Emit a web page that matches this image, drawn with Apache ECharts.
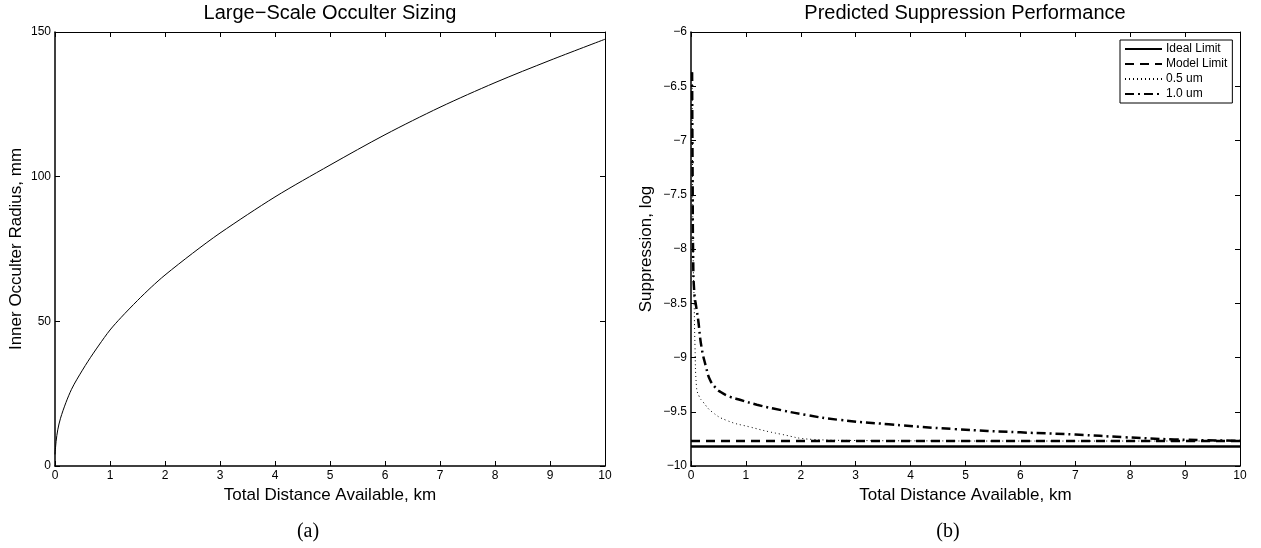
<!DOCTYPE html>
<html>
<head>
<meta charset="utf-8">
<script src="https://cdn.jsdelivr.net/npm/echarts@6/dist/echarts.min.js"></script>
<style>
  html, body { margin: 0; padding: 0; background: #fff; }
  #main { width: 1261px; height: 548px; }
</style>
</head>
<body>
<div id="main"></div>
<script>
// (a) occulter sizing curve
const sizeX = [0, 0.02, 0.05, 0.1, 0.2, 0.3, 0.4, 0.6, 0.8, 1, 1.2, 1.5, 1.75, 2, 2.5, 3, 4, 5, 6, 7, 8, 9, 10];
const sizeY = [4, 8.5, 12.5, 16.5, 22, 26.5, 30, 36.2, 41.8, 47, 51.3, 57.2, 61.8, 66, 73.5, 80.5, 93, 104, 114.5, 124, 132.5, 140.2, 147.5];

// (b) suppression curves
const limitX = [0, 10];
const idealY = [-9.82, -9.82];
const modelY = [-9.77, -9.77];
const halfX = [0.02, 0.03, 0.04, 0.055, 0.073, 0.1, 0.15, 0.22, 0.38, 0.65, 1.07, 1.62, 2.22, 3, 4, 6, 8, 10];
const halfY = [-6.37, -7.5, -8.1, -8.44, -8.9, -9.27, -9.36, -9.41, -9.5, -9.58, -9.64, -9.705, -9.755, -9.765, -9.768, -9.77, -9.77, -9.77];
const oneX = [0.02, 0.03, 0.04, 0.06, 0.1, 0.13, 0.19, 0.27, 0.35, 0.45, 0.53, 0.7, 0.89, 1.2, 1.5, 2.1, 2.7, 3.6, 4.8, 6, 7, 7.9, 8.8, 9.9, 10];
const oneY = [-6.37, -7.4, -8.1, -8.4, -8.55, -8.65, -8.9, -9.08, -9.21, -9.28, -9.315, -9.36, -9.39, -9.435, -9.47, -9.53, -9.575, -9.615, -9.66, -9.69, -9.71, -9.735, -9.755, -9.767, -9.768];

const xTicks = { min: 0, max: 10, interval: 1 };
const sizeTicks = { min: 0, max: 150, interval: 50 };
const suppTicks = { min: -10, max: -6, interval: 0.5 };

function pairs(xs, ys) {
  return xs.map((x, i) => [x, ys[i]]);
}
const minus = v => String(v).replace('-', '\u2212');

const font = 'Liberation Sans, Arial, Helvetica, sans-serif';
const lineBlack = { color: '#000', width: 1 };

function mainX(grid) {
  return {
    type: 'value', gridIndex: grid, min: xTicks.min, max: xTicks.max, interval: xTicks.interval,
    name: 'Total Distance Available, km', nameLocation: 'middle', nameGap: 20,
    nameTextStyle: { fontFamily: font, fontSize: 17, color: '#000' },
    axisLine: { show: true, onZero: false, lineStyle: { color: '#000', width: 1.5 } },
    axisTick: { show: true, inside: true, length: 5, lineStyle: lineBlack },
    axisLabel: { fontFamily: font, fontSize: 12, color: '#000', margin: 4 },
    splitLine: { show: false }
  };
}
function topX(grid) {
  return {
    type: 'value', gridIndex: grid, position: 'top', min: xTicks.min, max: xTicks.max, interval: xTicks.interval,
    axisLine: { show: true, onZero: false, lineStyle: lineBlack },
    axisTick: { show: true, inside: true, length: 5, lineStyle: lineBlack },
    axisLabel: { show: false }, splitLine: { show: false }
  };
}
function mainY(grid, t, name, gap) {
  return {
    type: 'value', gridIndex: grid, min: t.min, max: t.max, interval: t.interval,
    name: name, nameLocation: 'middle', nameGap: gap,
    nameTextStyle: { fontFamily: font, fontSize: 17, color: '#000' },
    axisLine: { show: true, onZero: false, lineStyle: { color: '#000', width: 1.5 } },
    axisTick: { show: true, inside: true, length: 5, lineStyle: lineBlack },
    axisLabel: { fontFamily: font, fontSize: 12, color: '#000', margin: 4, formatter: minus },
    splitLine: { show: false }
  };
}
function rightY(grid, t) {
  return {
    type: 'value', gridIndex: grid, position: 'right', min: t.min, max: t.max, interval: t.interval,
    axisLine: { show: true, onZero: false, lineStyle: lineBlack },
    axisTick: { show: true, inside: true, length: 5, lineStyle: lineBlack },
    axisLabel: { show: false }, splitLine: { show: false }
  };
}

const chart = echarts.init(document.getElementById('main'), null, { renderer: 'canvas' });

chart.setOption({
  animation: false,
  backgroundColor: '#fff',
  grid: [
    { left: 55, right: 656, top: 32, bottom: 82 },
    { left: 691, right: 21, top: 32, bottom: 82 }
  ],
  xAxis: [mainX(0), topX(0), mainX(1), topX(1)],
  yAxis: [
    mainY(0, sizeTicks, 'Inner Occulter Radius, mm', 30),
    rightY(0, sizeTicks),
    mainY(1, suppTicks, 'Suppression, log', 36),
    rightY(1, suppTicks)
  ],
  legend: {
    orient: 'vertical', left: 1120, top: 40,
    data: ['Ideal Limit', 'Model Limit', '0.5 um', '1.0 um'],
    itemWidth: 37, itemHeight: 12, itemGap: 3,
    padding: [3, 5, 3, 4],
    borderColor: '#000', borderWidth: 1, backgroundColor: '#fff',
    itemStyle: { color: 'rgba(0,0,0,0)', borderColor: 'rgba(0,0,0,0)', borderWidth: 0 },
    textStyle: { fontFamily: font, fontSize: 12, color: '#000', padding: [0, 0, 0, -1] }
  },
  series: [
    {
      type: 'line', name: 'sizing', xAxisIndex: 0, yAxisIndex: 0,
      data: pairs(sizeX, sizeY), smooth: 0.3, symbol: 'none',
      lineStyle: { color: '#000', width: 1 }
    },
    {
      type: 'line', name: 'Ideal Limit', xAxisIndex: 2, yAxisIndex: 2,
      data: pairs(limitX, idealY), symbol: 'none',
      lineStyle: { color: '#000', width: 2.5 }, itemStyle: { color: '#000' }
    },
    {
      type: 'line', name: 'Model Limit', xAxisIndex: 2, yAxisIndex: 2,
      data: pairs(limitX, modelY), symbol: 'none',
      lineStyle: { color: '#000', width: 2.5, type: [9, 6] }, itemStyle: { color: '#000' }
    },
    {
      type: 'line', name: '0.5 um', xAxisIndex: 2, yAxisIndex: 2,
      data: pairs(halfX, halfY), smooth: true, symbol: 'none',
      lineStyle: { color: '#000', width: 1, type: [1, 3] }, itemStyle: { color: '#000' }
    },
    {
      type: 'line', name: '1.0 um', xAxisIndex: 2, yAxisIndex: 2,
      data: pairs(oneX, oneY), smooth: true, symbol: 'none',
      lineStyle: { color: '#000', width: 2.5, type: [9, 4, 2, 4] }, itemStyle: { color: '#000' }
    }
  ],
  graphic: [
    { type: 'text', x: 330, y: 13, style: { text: 'Large\u2212Scale Occulter Sizing', fontFamily: font, fontSize: 20, fill: '#000', align: 'center', verticalAlign: 'middle' } },
    { type: 'text', x: 965, y: 13, style: { text: 'Predicted Suppression Performance', fontFamily: font, fontSize: 20, fill: '#000', align: 'center', verticalAlign: 'middle' } },
    { type: 'text', x: 308, y: 532, style: { text: '(a)', fontFamily: 'Liberation Serif, DejaVu Serif, serif', fontSize: 20, fill: '#000', align: 'center', verticalAlign: 'middle' } },
    { type: 'text', x: 948, y: 532, style: { text: '(b)', fontFamily: 'Liberation Serif, DejaVu Serif, serif', fontSize: 20, fill: '#000', align: 'center', verticalAlign: 'middle' } }
  ]
});
</script>
</body>
</html>
